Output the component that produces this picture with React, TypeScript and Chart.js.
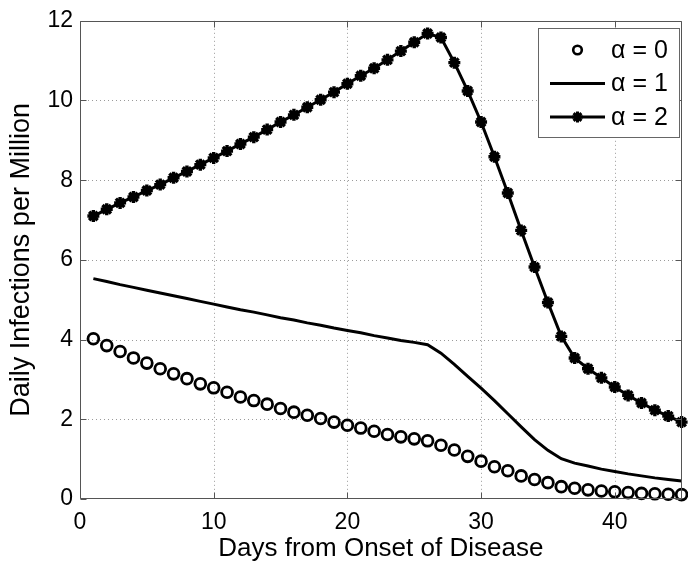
import React, { useEffect, useRef } from "react";
import { Chart, registerables } from "chart.js";

Chart.register(...registerables);

const days = [1, 2, 3, 4, 5, 6, 7, 8, 9, 10, 11, 12, 13, 14, 15, 16, 17, 18, 19, 20, 21, 22, 23, 24, 25, 26, 27, 28, 29, 30, 31, 32, 33, 34, 35, 36, 37, 38, 39, 40, 41, 42, 43, 44, 45];

const alpha0 = [4.02, 3.85, 3.7, 3.54, 3.41, 3.27, 3.14, 3.02, 2.89, 2.79, 2.68, 2.56, 2.47, 2.38, 2.27, 2.18, 2.1, 2.02, 1.93, 1.85, 1.78, 1.7, 1.62, 1.56, 1.51, 1.46, 1.35, 1.23, 1.07, 0.95, 0.81, 0.71, 0.58, 0.49, 0.41, 0.31, 0.27, 0.23, 0.2, 0.18, 0.16, 0.14, 0.13, 0.12, 0.11];

const alpha1 = [5.53, 5.46, 5.38, 5.31, 5.24, 5.17, 5.1, 5.03, 4.96, 4.89, 4.82, 4.75, 4.69, 4.62, 4.55, 4.49, 4.42, 4.36, 4.29, 4.23, 4.17, 4.1, 4.04, 3.98, 3.93, 3.87, 3.66, 3.38, 3.08, 2.78, 2.47, 2.14, 1.81, 1.49, 1.22, 1.01, 0.9, 0.83, 0.75, 0.69, 0.63, 0.58, 0.53, 0.49, 0.45];

const alpha2 = [7.1, 7.27, 7.43, 7.58, 7.74, 7.89, 8.06, 8.22, 8.39, 8.56, 8.73, 8.91, 9.08, 9.27, 9.46, 9.64, 9.83, 10.02, 10.21, 10.42, 10.62, 10.81, 11.02, 11.24, 11.46, 11.68, 11.58, 10.95, 10.24, 9.46, 8.59, 7.68, 6.74, 5.82, 4.93, 4.08, 3.54, 3.27, 3.04, 2.81, 2.6, 2.41, 2.23, 2.08, 1.93];

const xTicks = [0, 10, 20, 30, 40];
const yTicks = [0, 2, 4, 6, 8, 10, 12];
const legendLabels = ["\u03b1 = 0", "\u03b1 = 1", "\u03b1 = 2"];
const xTitle = "Days from Onset of Disease";
const yTitle = "Daily Infections per Million";

const FONT = "'Liberation Sans', Arial, Helvetica, sans-serif";

function drawStar(ctx: CanvasRenderingContext2D, cx: number, cy: number, r: number, lw: number) {
  ctx.save();
  ctx.lineWidth = lw;
  ctx.strokeStyle = "#000";
  ctx.beginPath();
  for (let i = 0; i < 4; i++) {
    const ang = (i * Math.PI) / 4;
    ctx.moveTo(cx + Math.cos(ang) * r, cy + Math.sin(ang) * r);
    ctx.lineTo(cx - Math.cos(ang) * r, cy - Math.sin(ang) * r);
  }
  ctx.stroke();
  ctx.restore();
}

const framePlugin = {
  id: "matlabFrame",
  beforeDatasetsDraw(chart: any) {
    const { ctx, chartArea: a, scales } = chart;
    const x = scales.x;
    const y = scales.y;
    ctx.save();
    ctx.strokeStyle = "#9a9a9a";
    ctx.lineWidth = 1;
    ctx.setLineDash([1, 3]);
    for (const v of xTicks) {
      if (v <= 0) continue;
      const px = Math.round(x.getPixelForValue(v)) + 0.5;
      ctx.beginPath();
      ctx.moveTo(px, a.top);
      ctx.lineTo(px, a.bottom);
      ctx.stroke();
    }
    for (const v of yTicks) {
      if (v <= 0 || v >= 12) continue;
      const py = Math.round(y.getPixelForValue(v)) + 0.5;
      ctx.beginPath();
      ctx.moveTo(a.left, py);
      ctx.lineTo(a.right, py);
      ctx.stroke();
    }
    ctx.restore();
  },
  afterDatasetsDraw(chart: any) {
    const { ctx, chartArea: a, scales } = chart;
    const x = scales.x;
    const y = scales.y;
    ctx.save();
    ctx.setLineDash([]);
    ctx.strokeStyle = "#555";
    ctx.lineWidth = 1;
    const l = Math.round(a.left) + 0.5;
    const t = Math.round(a.top) + 0.5;
    const r = Math.round(a.right) - 0.5;
    const b = Math.round(a.bottom) - 0.5;
    ctx.beginPath();
    ctx.moveTo(l, t);
    ctx.lineTo(r, t);
    ctx.lineTo(r, b);
    ctx.lineTo(l, b);
    ctx.closePath();
    ctx.stroke();
    const L = 6;
    ctx.beginPath();
    for (const v of xTicks) {
      const px = Math.round(x.getPixelForValue(v)) + 0.5;
      ctx.moveTo(px, b);
      ctx.lineTo(px, b - L);
      ctx.moveTo(px, t);
      ctx.lineTo(px, t + L);
    }
    for (const v of yTicks) {
      const py = Math.round(y.getPixelForValue(v)) + 0.5;
      ctx.moveTo(l, py);
      ctx.lineTo(l + L, py);
      ctx.moveTo(r, py);
      ctx.lineTo(r - L, py);
    }
    ctx.stroke();
    ctx.restore();
  },
  afterDraw(chart: any) {
    const { ctx } = chart;
    ctx.save();
    const bx = 538.5, by = 28.5, bw = 141, bh = 109;
    ctx.fillStyle = "#fff";
    ctx.fillRect(bx, by, bw, bh);
    ctx.strokeStyle = "#666";
    ctx.lineWidth = 1;
    ctx.strokeRect(bx, by, bw, bh);
    const rows = [50, 83.5, 117];
    const x1 = 550, x2 = 605, xm = 577.5;
    ctx.strokeStyle = "#000";
    ctx.lineWidth = 2.6;
    ctx.beginPath();
    ctx.arc(xm, rows[0], 4.3, 0, Math.PI * 2);
    ctx.stroke();
    ctx.lineWidth = 3;
    ctx.beginPath();
    ctx.moveTo(x1, rows[1]);
    ctx.lineTo(x2, rows[1]);
    ctx.stroke();
    ctx.beginPath();
    ctx.moveTo(x1, rows[2]);
    ctx.lineTo(x2, rows[2]);
    ctx.stroke();
    drawStar(ctx, xm, rows[2], 5.5, 3);
    ctx.fillStyle = "#000";
    ctx.font = `25px ${FONT}`;
    ctx.textBaseline = "middle";
    ctx.textAlign = "left";
    legendLabels.forEach((lab, i) => ctx.fillText(lab, 611, rows[i] + 1));
    ctx.restore();
  },
};

export default function App() {
  const ref = useRef<HTMLCanvasElement | null>(null);
  useEffect(() => {
    if (!ref.current) return;
    const chart = new Chart(ref.current, {
      type: "line",
      data: {
        datasets: [
          {
            label: legendLabels[0],
            data: days.map((d, i) => ({ x: d, y: alpha0[i] })),
            showLine: false,
            pointStyle: "circle",
            pointRadius: 5.4,
            pointBorderWidth: 2.8,
            pointBorderColor: "#000",
            pointBackgroundColor: "rgba(0,0,0,0)",
            borderColor: "#000",
            clip: false as any,
          },
          {
            label: legendLabels[1],
            data: days.map((d, i) => ({ x: d, y: alpha1[i] })),
            borderColor: "#000",
            borderWidth: 3,
            pointRadius: 0,
            tension: 0,
            clip: false as any,
          },
          {
            label: legendLabels[2],
            data: days.map((d, i) => ({ x: d, y: alpha2[i] })),
            borderColor: "#000",
            borderWidth: 3,
            pointStyle: "star",
            pointRadius: 6,
            pointBorderWidth: 3.4,
            pointBorderColor: "#000",
            pointBackgroundColor: "#000",
            tension: 0,
            clip: false as any,
          },
        ],
      },
      options: {
        responsive: false,
        animation: false,
        devicePixelRatio: 1,
        layout: { padding: { left: 0, right: 2, top: 19, bottom: 0 } },
        plugins: { legend: { display: false }, tooltip: { enabled: false } },
        scales: {
          x: {
            type: "linear",
            min: 0,
            max: 45,
            afterBuildTicks: (s: any) => {
              s.ticks = xTicks.map((value) => ({ value }));
            },
            afterFit: (s: any) => {
              s.height = 66;
            },
            grid: { display: false, drawTicks: false },
            border: { display: false },
            ticks: { color: "#000", font: { family: FONT, size: 23 }, padding: 10, maxRotation: 0 },
            title: { display: true, text: xTitle, color: "#000", font: { family: FONT, size: 26 }, padding: { top: 0, bottom: 1 } },
          },
          y: {
            type: "linear",
            min: 0,
            max: 12,
            afterBuildTicks: (s: any) => {
              s.ticks = yTicks.map((value) => ({ value }));
            },
            afterFit: (s: any) => {
              s.width = 80;
            },
            grid: { display: false, drawTicks: false },
            border: { display: false },
            ticks: { color: "#000", font: { family: FONT, size: 23 }, padding: 7 },
            title: { display: true, text: yTitle, color: "#000", font: { family: FONT, size: 27 }, padding: { top: 5, bottom: 0 } },
          },
        },
      },
      plugins: [framePlugin],
    });
    return () => chart.destroy();
  }, []);
  return (
    <div style={{ position: "absolute", left: 0, top: 0, width: 688, height: 565, overflow: "hidden", background: "#fff" }}>
      <canvas ref={ref} width={691} height={565} style={{ display: "block", width: 691, height: 565 }} />
    </div>
  );
}
